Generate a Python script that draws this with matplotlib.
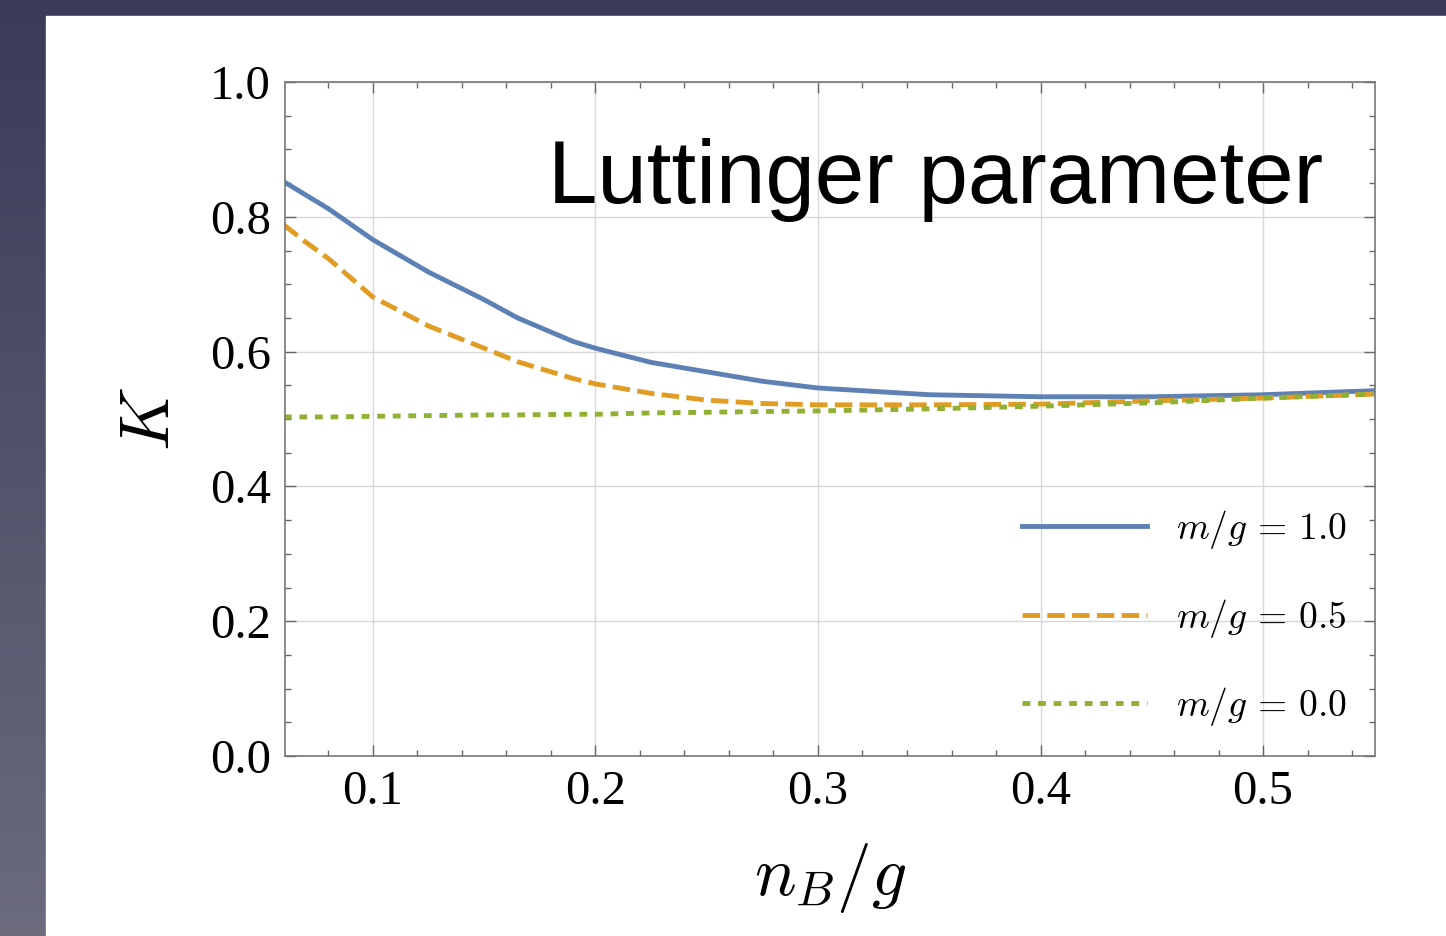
import numpy as np
import matplotlib
matplotlib.use("Agg")
import matplotlib.pyplot as plt
from matplotlib.ticker import MultipleLocator, FormatStrFormatter
from matplotlib.font_manager import FontProperties

# data
n_b = [0.06, 0.07, 0.08, 0.10, 0.125, 0.15, 0.165, 0.19, 0.20, 0.225, 0.25, 0.275,
       0.30, 0.35, 0.40, 0.45, 0.50, 0.55]
k_m10 = [0.852, 0.832, 0.812, 0.766, 0.718, 0.677, 0.650, 0.615, 0.605, 0.584, 0.570, 0.556,
         0.546, 0.536, 0.533, 0.533, 0.536, 0.542]
k_m05 = [0.788, 0.762, 0.738, 0.681, 0.638, 0.605, 0.585, 0.560, 0.552, 0.538, 0.528, 0.523,
         0.521, 0.521, 0.522, 0.527, 0.531, 0.537]
k_m00 = [0.503, 0.503, 0.503, 0.504, 0.505, 0.506, 0.506, 0.507, 0.507, 0.509, 0.510, 0.511,
         0.512, 0.515, 0.519, 0.524, 0.531, 0.537]
labels = [r'$m/g\,=\,\mathrm{1.0}$', r'$m/g\,=\,\mathrm{0.5}$', r'$m/g\,=\,\mathrm{0.0}$']
colors = ['#5E81B5', '#E19C24', '#8FB032']

plt.rcParams['font.family'] = ['Liberation Serif', 'DejaVu Serif']
plt.rcParams['mathtext.fontset'] = 'cm'

fig = plt.figure(figsize=(14.46, 9.36), dpi=100)

# slide background with white panel
bg = fig.add_axes([0, 0, 1, 1], zorder=-10)
grad = np.linspace(0, 1, 200)[:, None] * np.ones((1, 2))
top = np.array([0.23, 0.23, 0.35])
bot = np.array([0.42, 0.42, 0.49])
img = top[None, None, :] * (1 - grad[..., None]) + bot[None, None, :] * grad[..., None]
bg.imshow(img, aspect='auto', extent=[0, 1, 0, 1], origin='upper')
bg.add_patch(plt.Rectangle((46 / 1446, 0), 1, 920 / 936, color='white'))
bg.set_xlim(0, 1)
bg.set_ylim(0, 1)
bg.axis('off')

ax = fig.add_axes([285 / 1446, 1 - 756 / 936, 1090 / 1446, 674 / 936])
ax.plot(n_b, k_m10, color=colors[0], lw=3.5, label=labels[0])
ax.plot(n_b, k_m05, color=colors[1], lw=3.5, dashes=(3.6, 1.5), label=labels[1])
ax.plot(n_b, k_m00, color=colors[2], lw=3.5, dashes=(1.6, 1.6), label=labels[2])

ax.set_xlim(0.0605, 0.5503)
ax.set_ylim(0, 1)
ax.xaxis.set_major_locator(MultipleLocator(0.1))
ax.xaxis.set_minor_locator(MultipleLocator(0.02))
ax.yaxis.set_major_locator(MultipleLocator(0.2))
ax.yaxis.set_minor_locator(MultipleLocator(0.05))
ax.xaxis.set_major_formatter(FormatStrFormatter('%.1f'))
ax.yaxis.set_major_formatter(FormatStrFormatter('%.1f'))
ax.tick_params(which='both', direction='in', top=True, right=True, color='#666666',
               labelsize=35, labelcolor='black')
ax.tick_params(which='major', length=8, width=1, pad=10)
ax.tick_params(which='minor', length=4, width=1)
ax.grid(True, which='major', color='#d8d8d8', lw=1)
for s in ax.spines.values():
    s.set_color('#777777')
    s.set_linewidth(1.2)

ax.set_xlabel(r'$n_B/g$', fontsize=50, va='center')
ax.xaxis.set_label_coords(0.5, -0.181)
ax.set_ylabel(r'$K$', fontsize=50, va='center')
ax.yaxis.set_label_coords(-0.122, 0.5)

ax.text(0.952, 0.855, 'Luttinger parameter', transform=ax.transAxes, ha='right', va='center',
        fontsize=64, family='Liberation Sans')

leg = ax.legend(loc='upper left', bbox_to_anchor=(0.676, 0.368), frameon=False,
                prop=FontProperties(size=27), borderpad=0, borderaxespad=0,
                handlelength=3.35, handletextpad=0.75, labelspacing=1.22)

fig.savefig('out.png', dpi=100)
